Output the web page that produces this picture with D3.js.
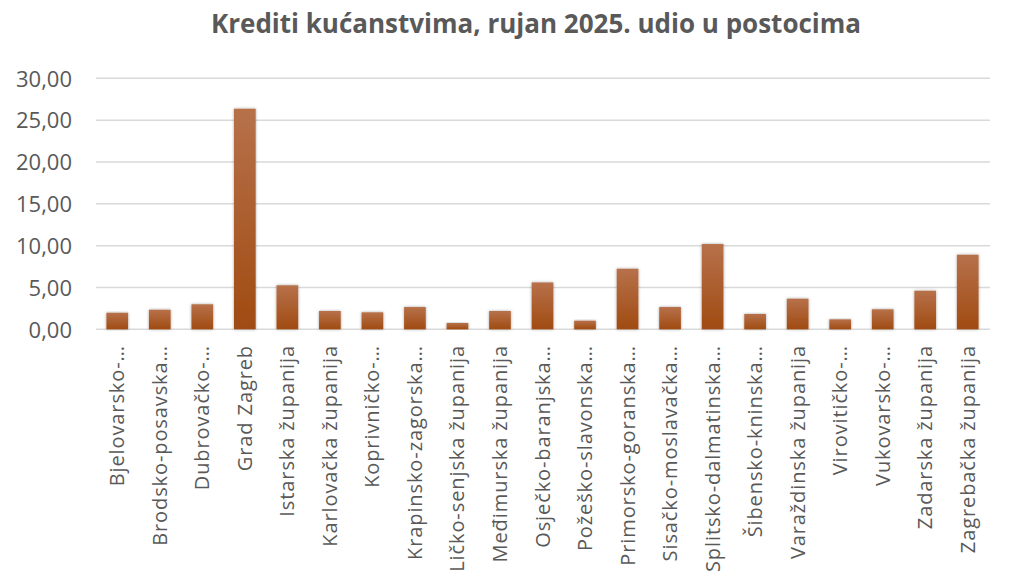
<!DOCTYPE html>
<html><head><meta charset="utf-8">
<script src="https://cdn.jsdelivr.net/npm/d3@7"></script>
<style>body{margin:0;background:#fff;} svg{display:block;}</style>
</head><body>
<svg id="c" width="1024" height="576"></svg>
<script>
const categories = ["Bjelovarsko-…","Brodsko-posavska…","Dubrovačko-…","Grad Zagreb","Istarska županija","Karlovačka županija","Koprivničko-…","Krapinsko-zagorska…","Ličko-senjska županija","Međimurska županija","Osječko-baranjska…","Požeško-slavonska…","Primorsko-goranska…","Sisačko-moslavačka…","Splitsko-dalmatinska…","Šibensko-kninska…","Varaždinska županija","Virovitičko-…","Vukovarsko-…","Zadarska županija","Zagrebačka županija"];
const values = [1.98,2.34,2.99,26.36,5.26,2.19,2.03,2.66,0.75,2.19,5.60,1.03,7.24,2.66,10.19,1.83,3.66,1.19,2.39,4.61,8.91];
const yTicks = [0,5,10,15,20,25,30];
const title = "Krediti kućanstvima, rujan 2025. udio u postocima";

const svg = d3.select("#c");
const x = d3.scaleBand().domain(categories).range([96,989]).paddingInner(0.49).paddingOuter(0.245);
const y = d3.scaleLinear().domain([0,30]).range([329.3,78.3]);
const fmt = v => d3.format(".2f")(v).replace(".", ",");

const defs = svg.append("defs");
const g = defs.append("linearGradient").attr("id","bg").attr("x1",0).attr("y1",0).attr("x2",0).attr("y2",1);
g.append("stop").attr("offset","0%").attr("stop-color","#b7714a");
g.append("stop").attr("offset","100%").attr("stop-color","#a04b12");
const f = defs.append("filter").attr("id","sh").attr("x","-30%").attr("y","-10%").attr("width","160%").attr("height","120%");
f.append("feDropShadow").attr("dx",0).attr("dy",0).attr("stdDeviation",1.5).attr("flood-color","#000").attr("flood-opacity",0.35);

svg.append("text").attr("x",536).attr("y",33).attr("text-anchor","middle")
  .attr("font-family","Open Sans").attr("font-weight","bold").attr("font-size",26).attr("fill","#595959").text(title);

const grid = svg.append("g");
grid.selectAll("line").data(yTicks).join("line")
  .attr("x1",96).attr("x2",990).attr("y1",d=>y(d)).attr("y2",d=>y(d))
  .attr("stroke","#d9d9d9").attr("stroke-width",1.5);

const yAxis = d3.axisLeft(y).tickValues(yTicks).tickFormat(fmt).tickSize(0).tickPadding(0);
const ya = svg.append("g").attr("transform","translate(72,0)").call(yAxis);
ya.select(".domain").remove();
ya.selectAll("text").attr("font-family","Open Sans").attr("font-size",22).attr("fill","#595959").attr("dy","0.35em");

svg.append("g").selectAll("rect").data(values).join("rect")
  .attr("x",(d,i)=>x(categories[i])).attr("width",x.bandwidth())
  .attr("y",d=>y(d)).attr("height",d=>y(0)-y(d))
  .attr("fill","url(#bg)").attr("filter","url(#sh)");

const xAxis = d3.axisBottom(x).tickSize(0).tickPadding(0);
const xa = svg.append("g").attr("transform","translate(0,345)").call(xAxis);
xa.select(".domain").remove();
xa.selectAll("text").attr("font-family","Open Sans").attr("font-size",20).attr("letter-spacing","0.9px")
  .attr("fill","#595959").attr("text-anchor","end").attr("transform","rotate(-90)")
  .attr("x",0).attr("y",0).attr("dy","0.35em");
</script>
</body></html>
